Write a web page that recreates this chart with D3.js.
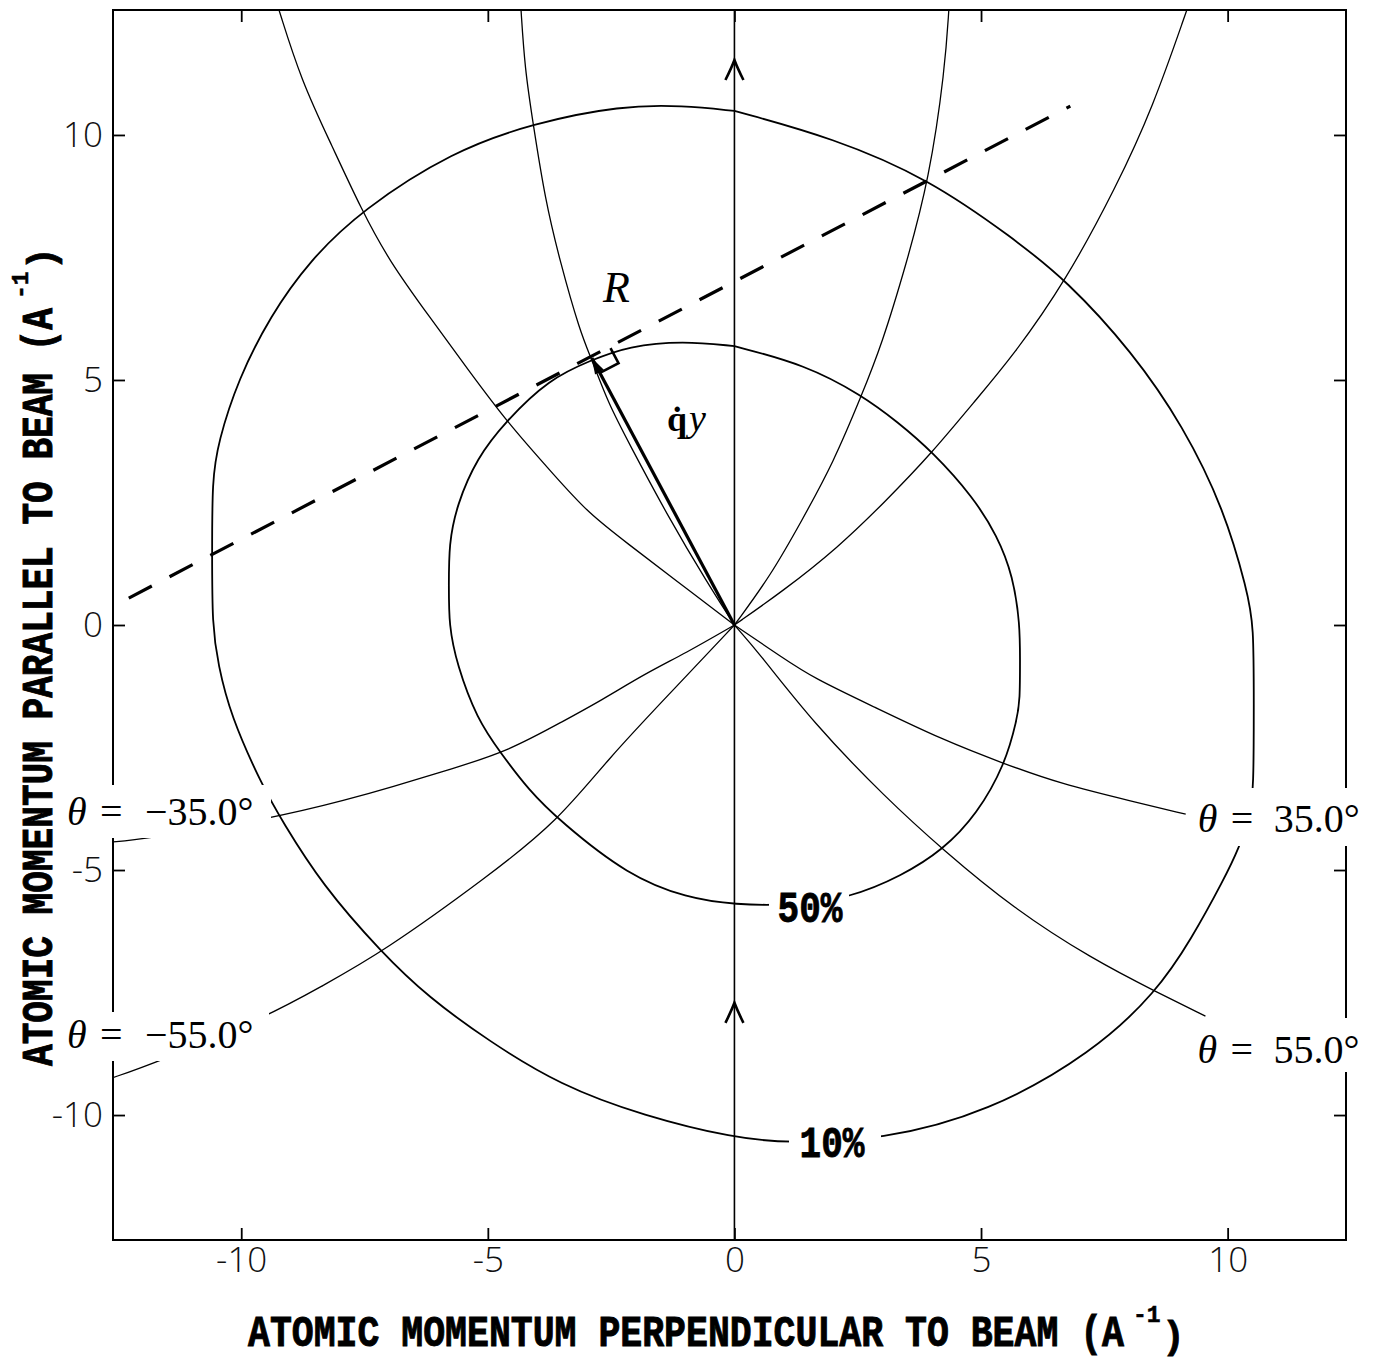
<!DOCTYPE html>
<html><head><meta charset="utf-8">
<script src="https://cdn.jsdelivr.net/npm/d3@7"></script>
<style>
html,body{margin:0;padding:0;background:#fff;}
svg{display:block;}
</style></head>
<body>
<svg id="chart" width="1377" height="1361"></svg>
<script>
// ---- axis ticks ----
const xTicks = [-10, -5, 0, 5, 10];
const yTicks = [-10, -5, 0, 5, 10];
const xTickLabels = ["-10", "-5", "0", "5", "10"];
const yTickLabels = ["-10", "-5", "0", "5", "10"];

// ---- intensity contours (momentum units, A^-1) ----
const contour10 = [
  [0, 10.49], [-1.04, 10.6], [-2.3, 10.6], [-4.08, 10.24], [-5.71, 9.67], [-7.56, 8.47],
  [-8.62, 7.43], [-9.41, 6.31], [-10.06, 5.02], [-10.47, 3.73], [-10.59, 2.94], [-10.59, 1.5],
  [-10.59, 0], [-10.47, -0.8], [-10.22, -1.84], [-9.57, -3.29], [-9.17, -4.0], [-8.37, -5.29],
  [-7.15, -6.69], [-6.2, -7.6], [-4.98, -8.49], [-3.54, -9.39], [-1.83, -10.02], [0, -10.47],
  [1.06, -10.57], [2.99, -10.51], [5.16, -9.94], [7.26, -8.73], [8.56, -7.49], [9.27, -6.4],
  [9.92, -5.2], [10.24, -4.53], [10.45, -3.9], [10.53, -3.33], [10.53, -1.6], [10.53, 0],
  [10.4, 0.69], [9.93, 2.36], [9.1, 4.06], [8.07, 5.57], [6.73, 7.04], [5.64, 7.9],
  [3.95, 9.1], [2.0, 9.94], [0, 10.49]
];
const contour50 = [
  [0, 5.69], [-1.04, 5.8], [-2.15, 5.69], [-2.89, 5.41], [-3.76, 5.02], [-4.65, 4.14],
  [-5.22, 3.41], [-5.63, 2.45], [-5.79, 1.65], [-5.79, 0.8], [-5.79, 0], [-5.63, -0.8],
  [-5.22, -1.92], [-4.74, -2.61], [-4.17, -3.37], [-3.54, -4.0], [-2.15, -5.12], [-0.96, -5.57],
  [0, -5.71], [1.2, -5.72], [2.34, -5.57], [3.39, -5.12], [4.23, -4.59], [4.92, -3.86],
  [5.49, -2.84], [5.73, -1.92], [5.79, -1.53], [5.79, -0.7], [5.79, 0], [5.65, 1.0],
  [5.33, 1.82], [4.84, 2.61], [4.02, 3.53], [3.3, 4.15], [2.58, 4.69], [1.44, 5.31], [0, 5.69]
];

// ---- constant scattering-angle curves ----
const theta35 = [[0, 0], [0.98, -0.67], [1.6, -1.08], [2.83, -1.67], [4.19, -2.33], [5.49, -2.84],
  [6.61, -3.24], [8.07, -3.6], [9.15, -3.86]];
const theta55 = [[0, 0], [0.49, -0.56], [1.6, -2.0], [3.07, -3.53], [4.23, -4.59], [5.65, -5.78],
  [7.26, -6.82], [8.56, -7.49], [9.55, -7.98]];
const thetaNeg35 = [[0, 0], [-1.0, -0.58], [-1.79, -0.98], [-2.72, -1.55], [-3.45, -1.95],
  [-4.58, -2.57], [-5.71, -2.93], [-6.99, -3.32], [-7.8, -3.55], [-9.41, -3.96],
  [-12.0, -4.37], [-12.64, -4.43]];
const thetaNeg55 = [[0, 0], [-1.36, -1.45], [-2.56, -2.73], [-3.58, -4.0], [-4.98, -5.12],
  [-7.15, -6.69], [-8.37, -7.37], [-9.45, -7.98], [-11.75, -8.94], [-12.64, -9.25]];
// upper branches of the same families
const branchOuterLeft = [[-9.25, 12.6], [-8.78, 11.1], [-8.17, 9.8], [-7.56, 8.47], [-7.0, 7.43],
  [-6.2, 6.31], [-5.39, 5.2], [-4.61, 4.14], [-3.62, 3.02], [-2.97, 2.29], [-2.15, 1.65],
  [-1.2, 0.92], [0, 0]];
const branchInnerLeft = [[-4.33, 12.6], [-4.25, 11.35], [-4.08, 10.22], [-3.84, 8.69], [-3.54, 7.43],
  [-3.13, 5.98], [-2.89, 5.41], [-2.56, 4.53], [-2.15, 3.73], [-1.34, 2.2], [-0.55, 0.86], [0, 0]];
const branchInnerRight = [[4.35, 12.6], [4.27, 11.35], [3.95, 9.1], [3.48, 7.35], [2.99, 5.73],
  [2.58, 4.69], [2.01, 3.32], [1.36, 2.12], [0.73, 1.0], [0, 0]];
const branchOuterRight = [[9.19, 12.6], [8.48, 10.55], [7.74, 8.94], [6.73, 7.04], [5.65, 5.49],
  [4.84, 4.53], [4.02, 3.53], [3.07, 2.53], [2.09, 1.57], [0.98, 0.69], [0, 0]];

const thetaNames = ["θ", "=", "35.0°", "55.0°", "−35.0°", "−55.0°"];
const contourNames = ["50%", "10%"];

// ---- resonance line and recoil vector ----
const resonanceLine = [[-12.28, 0.55], [6.81, 10.59]];
const recoilTip = [-2.89, 5.45];
const beamArrowMarks = [11.53, -7.71];

// =====================================================================
const svg = d3.select("#chart");
const x = d3.scaleLinear().domain([-12.6, 12.4]).range([113, 1346]);
const y = d3.scaleLinear().domain([-12.55, 12.55]).range([1240, 10]);
const X0 = 113, X1 = 1346, Y0 = 10, Y1 = 1240;

svg.append("rect").attr("width", 1377).attr("height", 1361).attr("fill", "#fff");

svg.append("defs").append("clipPath").attr("id", "plotClip").append("rect")
  .attr("x", X0).attr("y", Y0).attr("width", X1 - X0).attr("height", Y1 - Y0);

const smooth = d3.line().x(d => x(d[0])).y(d => y(d[1])).curve(d3.curveBasis);
const straight = d3.line().x(d => x(d[0])).y(d => y(d[1]));

const plot = svg.append("g").attr("clip-path", "url(#plotClip)");

// beam axis
plot.append("line").attr("x1", x(0)).attr("x2", x(0)).attr("y1", y(-12.55)).attr("y2", y(12.55))
  .attr("stroke", "#000").attr("stroke-width", 1.6);
beamArrowMarks.forEach(v => {
  const cx = x(0), cy = y(v);
  plot.append("path").attr("d", `M${cx - 9},${cy + 20} Q${cx - 3},${cy + 8} ${cx},${cy} Q${cx + 3},${cy + 8} ${cx + 9},${cy + 20}`)
    .attr("fill", "none").attr("stroke", "#000").attr("stroke-width", 2.6);
});

// angle curves
[branchOuterLeft, branchInnerLeft, branchInnerRight, branchOuterRight,
 theta35, theta55, thetaNeg35, thetaNeg55].forEach(c => {
  plot.append("path").attr("d", smooth(c)).attr("fill", "none")
    .attr("stroke", "#000").attr("stroke-width", 1.3);
});

// contours
[contour10, contour50].forEach(c => {
  plot.append("path").attr("d", smooth(c)).attr("fill", "none")
    .attr("stroke", "#000").attr("stroke-width", 1.8);
});

// resonance (dashed) line
plot.append("path").attr("d", straight(resonanceLine)).attr("fill", "none")
  .attr("stroke", "#000").attr("stroke-width", 3.2).attr("stroke-dasharray", "26 20");

// recoil vector from origin to R
const ox = x(0), oy = y(0), rx = x(recoilTip[0]), ry = y(recoilTip[1]);
plot.append("line").attr("x1", ox).attr("y1", oy).attr("x2", rx).attr("y2", ry)
  .attr("stroke", "#000").attr("stroke-width", 3.2);
{
  const len = Math.hypot(ox - rx, oy - ry);
  const vx = (ox - rx) / len, vy = (oy - ry) / len;   // toward origin
  const px = -vy, py = vx;
  const h = 16, w = 5;
  plot.append("path")
    .attr("d", `M${rx},${ry} L${rx + vx * h + px * w},${ry + vy * h + py * w} L${rx + vx * h - px * w},${ry + vy * h - py * w} Z`)
    .attr("fill", "#000");
  // right-angle marker between the vector and the dashed line
  const lx = x(resonanceLine[1][0]) - x(resonanceLine[0][0]);
  const ly = y(resonanceLine[1][1]) - y(resonanceLine[0][1]);
  const ll = Math.hypot(lx, ly), ux = lx / ll, uy = ly / ll;
  const s1 = 21, s2 = 17;
  plot.append("path")
    .attr("d", `M${rx + ux * s1},${ry + uy * s1} L${rx + ux * s1 + vx * s2},${ry + uy * s1 + vy * s2} L${rx + vx * s2},${ry + vy * s2}`)
    .attr("fill", "none").attr("stroke", "#000").attr("stroke-width", 2.6);
}

// frame
svg.append("rect").attr("x", X0).attr("y", Y0).attr("width", X1 - X0).attr("height", Y1 - Y0)
  .attr("fill", "none").attr("stroke", "#000").attr("stroke-width", 2);

// axes with inward ticks
const tickFont = "'Open Sans', 'Liberation Sans', sans-serif";
function styleAxis(g) {
  g.select(".domain").remove();
  g.selectAll(".tick line").attr("stroke", "#000").attr("stroke-width", 1.8);
  g.selectAll(".tick text").attr("fill", "#111").style("font-family", tickFont)
    .style("font-size", "35px").style("font-weight", 300);
}
svg.append("g").attr("transform", `translate(0,${Y1})`)
  .call(d3.axisBottom(x).tickValues(xTicks).tickSize(-12).tickPadding(7)
    .tickFormat((d, i) => xTickLabels[i]))
  .call(styleAxis);
svg.append("g").attr("transform", `translate(${X0},0)`)
  .call(d3.axisLeft(y).tickValues(yTicks).tickSize(-12).tickPadding(10)
    .tickFormat((d, i) => yTickLabels[i]))
  .call(styleAxis);
svg.append("g").attr("transform", `translate(0,${Y0})`)
  .call(d3.axisTop(x).tickValues(xTicks).tickSize(-12).tickFormat(""))
  .call(styleAxis);
svg.append("g").attr("transform", `translate(${X1},0)`)
  .call(d3.axisRight(y).tickValues(yTicks).tickSize(-12).tickFormat(""))
  .call(styleAxis);

// ---- labels with white backing ----
const serif = "'Liberation Serif', 'DejaVu Serif', serif";
const mono = "'Liberation Mono', 'DejaVu Sans Mono', monospace";

function thetaLabel(left, baseline, valueText, negative, box) {
  svg.append("rect").attr("x", box[0]).attr("y", box[1]).attr("width", box[2] - box[0])
    .attr("height", box[3] - box[1]).attr("fill", "#fff");
  const g = svg.append("g").style("font-family", serif).style("font-size", "40px").attr("fill", "#000");
  g.append("text").attr("x", left).attr("y", baseline).style("font-style", "italic").text(thetaNames[0]);
  g.append("text").attr("x", left + 33).attr("y", baseline).text(thetaNames[1]);
  g.append("text").attr("x", left + (negative ? 78 : 76)).attr("y", baseline).text(valueText);
}
thetaLabel(x(theta35[theta35.length - 1][0]) + 12, 832, thetaNames[2], false, [1188, 788, 1377, 846]);
thetaLabel(x(theta55[theta55.length - 1][0]) - 8, 1063, thetaNames[3], false, [1193, 1018, 1377, 1072]);
thetaLabel(67, 825, thetaNames[4], true, [55, 785, 271, 838]);
thetaLabel(67, 1048, thetaNames[5], true, [55, 1012, 269, 1061]);

function contourLabel(cx, cy, txt, box) {
  svg.append("rect").attr("x", box[0]).attr("y", box[1]).attr("width", box[2] - box[0])
    .attr("height", box[3] - box[1]).attr("fill", "#fff");
  svg.append("text").attr("transform", `translate(${cx},${cy}) scale(1,1.25)`)
    .attr("text-anchor", "middle").style("font-family", mono).style("font-weight", "bold")
    .style("font-size", "36px").attr("fill", "#000").attr("stroke", "#000").attr("stroke-width", 0.7)
    .text(txt);
}
contourLabel(810, 922, contourNames[0], [769, 892, 849, 928]);
contourLabel(832, 1157, contourNames[1], [789, 1128, 881, 1162]);

// R and q_y annotations
svg.append("text").attr("x", 603).attr("y", 302).style("font-family", serif)
  .style("font-style", "italic").style("font-size", "44px").text("R");
const qy = svg.append("text").attr("x", 667).attr("y", 431).style("font-family", serif);
qy.append("tspan").style("font-weight", "bold").style("font-size", "36px").text("q\u0307");
qy.append("tspan").attr("dx", 2).style("font-style", "italic").style("font-size", "38px").text("y");

// axis titles: main run, raised exponent, closing bracket
function typeTitle(g, main, mainLen) {
  g.append("text").attr("x", 0).attr("y", 0).attr("transform", "scale(1,1.18)")
    .attr("textLength", mainLen).attr("lengthAdjust", "spacingAndGlyphs")
    .style("font-family", mono).style("font-weight", "bold").style("font-size", "37px")
    .attr("stroke", "#000").attr("stroke-width", 0.8).text(main);
  g.append("text").attr("x", mainLen + 9).attr("y", -24)
    .style("font-family", mono).style("font-weight", "bold").style("font-size", "23px")
    .attr("stroke", "#000").attr("stroke-width", 0.5).text("-1");
  g.append("text").attr("x", mainLen + 38).attr("y", 2)
    .style("font-family", mono).style("font-weight", "bold").style("font-size", "38px")
    .attr("stroke", "#000").attr("stroke-width", 0.8).text(")");
}
typeTitle(svg.append("g").attr("transform", "translate(248,1346)"),
  "ATOMIC MOMENTUM PERPENDICULAR TO BEAM (A", 876);
typeTitle(svg.append("g").attr("transform", "translate(52,1066) rotate(-90)"),
  "ATOMIC MOMENTUM PARALLEL TO BEAM (A", 758);
</script>
</body></html>
